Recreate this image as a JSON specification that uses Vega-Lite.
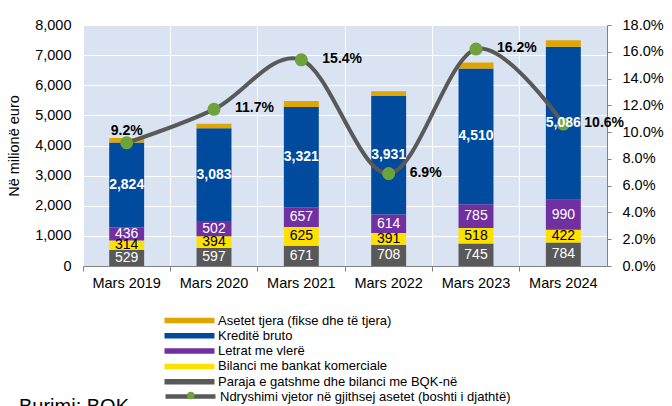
{
  "$schema": "https://vega.github.io/schema/vega-lite/v6.json",
  "width": 524,
  "height": 241,
  "autosize": "none",
  "padding": {"left": 83, "top": 25, "right": 65, "bottom": 140},
  "config": {
    "font": "Liberation Sans",
    "view": {"fill": "#DAE3F1", "stroke": null},
    "axis": {"labelFont": "Liberation Sans", "titleFont": "Liberation Sans", "labelColor": "black", "titleColor": "black", "labelOverlap": false},
    "axisRight": {"labelOverlap": false},
    "legend": {"labelFont": "Liberation Sans"}
  },
  "title": {
    "text": "Burimi: BQK",
    "orient": "bottom",
    "anchor": "start",
    "frame": "group",
    "fontSize": 20,
    "fontWeight": "normal",
    "color": "black",
    "dx": -64,
    "offset": -9
  },
  "datasets": {
    "bars": [
      {"period": "Mars 2019", "series": "Paraja e gatshme dhe bilanci me BQK-në", "value": 529, "order": 1},
      {"period": "Mars 2019", "series": "Bilanci me bankat komerciale", "value": 314, "order": 2},
      {"period": "Mars 2019", "series": "Letrat me vlerë", "value": 436, "order": 3},
      {"period": "Mars 2019", "series": "Kreditë bruto", "value": 2824, "order": 4},
      {"period": "Mars 2019", "series": "Asetet tjera (fikse dhe të tjera)", "value": 150, "order": 5},
      {"period": "Mars 2020", "series": "Paraja e gatshme dhe bilanci me BQK-në", "value": 597, "order": 1},
      {"period": "Mars 2020", "series": "Bilanci me bankat komerciale", "value": 394, "order": 2},
      {"period": "Mars 2020", "series": "Letrat me vlerë", "value": 502, "order": 3},
      {"period": "Mars 2020", "series": "Kreditë bruto", "value": 3083, "order": 4},
      {"period": "Mars 2020", "series": "Asetet tjera (fikse dhe të tjera)", "value": 150, "order": 5},
      {"period": "Mars 2021", "series": "Paraja e gatshme dhe bilanci me BQK-në", "value": 671, "order": 1},
      {"period": "Mars 2021", "series": "Bilanci me bankat komerciale", "value": 625, "order": 2},
      {"period": "Mars 2021", "series": "Letrat me vlerë", "value": 657, "order": 3},
      {"period": "Mars 2021", "series": "Kreditë bruto", "value": 3321, "order": 4},
      {"period": "Mars 2021", "series": "Asetet tjera (fikse dhe të tjera)", "value": 200, "order": 5},
      {"period": "Mars 2022", "series": "Paraja e gatshme dhe bilanci me BQK-në", "value": 708, "order": 1},
      {"period": "Mars 2022", "series": "Bilanci me bankat komerciale", "value": 391, "order": 2},
      {"period": "Mars 2022", "series": "Letrat me vlerë", "value": 614, "order": 3},
      {"period": "Mars 2022", "series": "Kreditë bruto", "value": 3931, "order": 4},
      {"period": "Mars 2022", "series": "Asetet tjera (fikse dhe të tjera)", "value": 155, "order": 5},
      {"period": "Mars 2023", "series": "Paraja e gatshme dhe bilanci me BQK-në", "value": 745, "order": 1},
      {"period": "Mars 2023", "series": "Bilanci me bankat komerciale", "value": 518, "order": 2},
      {"period": "Mars 2023", "series": "Letrat me vlerë", "value": 785, "order": 3},
      {"period": "Mars 2023", "series": "Kreditë bruto", "value": 4510, "order": 4},
      {"period": "Mars 2023", "series": "Asetet tjera (fikse dhe të tjera)", "value": 200, "order": 5},
      {"period": "Mars 2024", "series": "Paraja e gatshme dhe bilanci me BQK-në", "value": 784, "order": 1},
      {"period": "Mars 2024", "series": "Bilanci me bankat komerciale", "value": 422, "order": 2},
      {"period": "Mars 2024", "series": "Letrat me vlerë", "value": 990, "order": 3},
      {"period": "Mars 2024", "series": "Kreditë bruto", "value": 5086, "order": 4},
      {"period": "Mars 2024", "series": "Asetet tjera (fikse dhe të tjera)", "value": 210, "order": 5}
    ],
    "growth": [
      {"period": "Mars 2019", "pct": 0.092},
      {"period": "Mars 2020", "pct": 0.117},
      {"period": "Mars 2021", "pct": 0.154},
      {"period": "Mars 2022", "pct": 0.069},
      {"period": "Mars 2023", "pct": 0.162},
      {"period": "Mars 2024", "pct": 0.106}
    ]
  },
  "layer": [
    {
      "data": {"name": "bars"},
      "mark": {"type": "bar", "width": {"band": 0.4}},
      "encoding": {
        "x": {
          "field": "period", "type": "nominal", "sort": null, "title": null,
          "scale": {"paddingInner": 0, "paddingOuter": 0},
          "axis": {
            "bandPosition": 0, "grid": true, "gridColor": "white", "gridWidth": 1,
            "domainColor": "#808080", "tickColor": "#808080", "tickSize": 5,
            "labelAngle": 0, "labelFontSize": 14.5, "labelPadding": 5, "labelAlign": "center"
          }
        },
        "y": {
          "field": "value", "type": "quantitative", "stack": "zero",
          "scale": {"domain": [0, 8000], "nice": false},
          "axis": {
            "orient": "left", "title": "Në milionë euro", "titleFontSize": 14.5, "titleFontWeight": "normal",
            "titlePadding": 13, "values": [0, 1000, 2000, 3000, 4000, 5000, 6000, 7000, 8000], "format": ",.0f",
            "labelFontSize": 14.5, "labelPadding": 12, "ticks": false, "domain": false, "labelOverlap": false,
            "grid": true, "gridColor": "white", "gridWidth": 1
          }
        },
        "order": {"field": "order", "type": "quantitative"},
        "color": {
          "field": "series", "type": "nominal",
          "scale": {
            "domain": ["Asetet tjera (fikse dhe të tjera)", "Kreditë bruto", "Letrat me vlerë", "Bilanci me bankat komerciale", "Paraja e gatshme dhe bilanci me BQK-në"],
            "range": ["#E0A500", "#004B9E", "#7030A0", "#FFE100", "#595959"]
          },
          "legend": {
            "orient": "none", "legendX": 100, "legendY": 289, "title": null, "padding": 0,
            "symbolType": "M-5,-0.55H5V0.55H-5Z", "symbolSize": 100, "symbolStrokeWidth": 0,
            "labelFontSize": 13, "labelColor": "black", "labelOffset": 22, "rowPadding": 1.3, "labelLimit": 400
          }
        }
      }
    },
    {
      "data": {"name": "growth"},
      "encoding": {
        "x": {"field": "period", "type": "nominal", "sort": null, "title": null},
        "y": {
          "field": "pct", "type": "quantitative",
          "scale": {"domain": [0, 0.18], "nice": false},
          "axis": {
            "orient": "right", "title": null, "values": [0, 0.02, 0.04, 0.06, 0.08, 0.1, 0.12, 0.14, 0.16, 0.18],
            "format": ".1%", "labelFontSize": 14.5, "labelOverlap": false, "labelBound": false,
            "grid": false, "domainColor": "#808080", "tickColor": "#808080", "tickSize": 4, "labelPadding": 11
          }
        }
      },
      "layer": [
        {
          "mark": {"type": "line", "interpolate": "cardinal", "strokeWidth": 4, "strokeCap": "round"},
          "encoding": {
            "stroke": {
              "datum": "Ndryshimi vjetor në gjithsej asetet (boshti i djathtë)",
              "scale": {"range": ["#595959"]},
              "legend": {
                "orient": "none", "legendX": 100, "legendY": 364, "title": null, "padding": 0,
                "symbolType": "M-5,0H5", "symbolSize": 100, "symbolStrokeWidth": 4.5,
                "labelFontSize": 13, "labelColor": "black", "labelOffset": 22, "labelLimit": 400
              }
            }
          }
        },
        {
          "mark": {"type": "point", "filled": true, "size": 170, "opacity": 1},
          "encoding": {
            "fill": {
              "datum": "marker",
              "scale": {"range": ["#6EA23A"]},
              "legend": {
                "orient": "none", "legendX": 101.3, "legendY": 364, "title": null, "padding": 0,
                "symbolType": "circle", "symbolSize": 56, "symbolStrokeWidth": 0,
                "labelFontSize": 13, "labelOpacity": 0, "labelExpr": "''", "labelOffset": 6
              }
            }
          }
        },
        {
          "transform": [{"filter": "datum.period === 'Mars 2019'"}],
          "mark": {"type": "text", "fontSize": 14, "fontWeight": "bold", "color": "black", "align": "center", "baseline": "middle", "dy": -12},
          "encoding": {
            "text": {"field": "pct", "type": "quantitative", "format": ".1%"}
          }
        },
        {
          "transform": [{"filter": "datum.period !== 'Mars 2019'"}],
          "mark": {"type": "text", "fontSize": 14, "fontWeight": "bold", "color": "black", "align": "left", "baseline": "middle", "dx": 21, "dy": -1},
          "encoding": {
            "text": {"field": "pct", "type": "quantitative", "format": ".1%"}
          }
        }
      ]
    },
    {
      "data": {"name": "bars"},
      "transform": [{"filter": "datum.order < 5"}],
      "encoding": {
        "x": {"field": "period", "type": "nominal", "sort": null, "title": null},
        "y": {"field": "value", "type": "quantitative", "stack": "zero", "bandPosition": 0.5, "scale": {"domain": [0, 8000], "nice": false}, "axis": null},
        "order": {"field": "order", "type": "quantitative"},
        "text": {"field": "value", "type": "quantitative", "format": ","}
      },
      "layer": [
        {
          "mark": {"type": "text", "fontSize": 14, "baseline": "middle", "align": "center"},
          "encoding": {
            "color": {"condition": {"test": "datum.order === 2", "value": "black"}, "value": "white"},
            "opacity": {"condition": {"test": "datum.order === 4", "value": 0}, "value": 1}
          }
        },
        {
          "mark": {"type": "text", "fontSize": 14, "fontWeight": "bold", "baseline": "middle", "align": "center", "color": "white"},
          "encoding": {
            "opacity": {"condition": {"test": "datum.order === 4", "value": 1}, "value": 0}
          }
        }
      ]
    }
  ],
  "resolve": {"scale": {"y": "independent"}, "axis": {"y": "independent"}}
}
